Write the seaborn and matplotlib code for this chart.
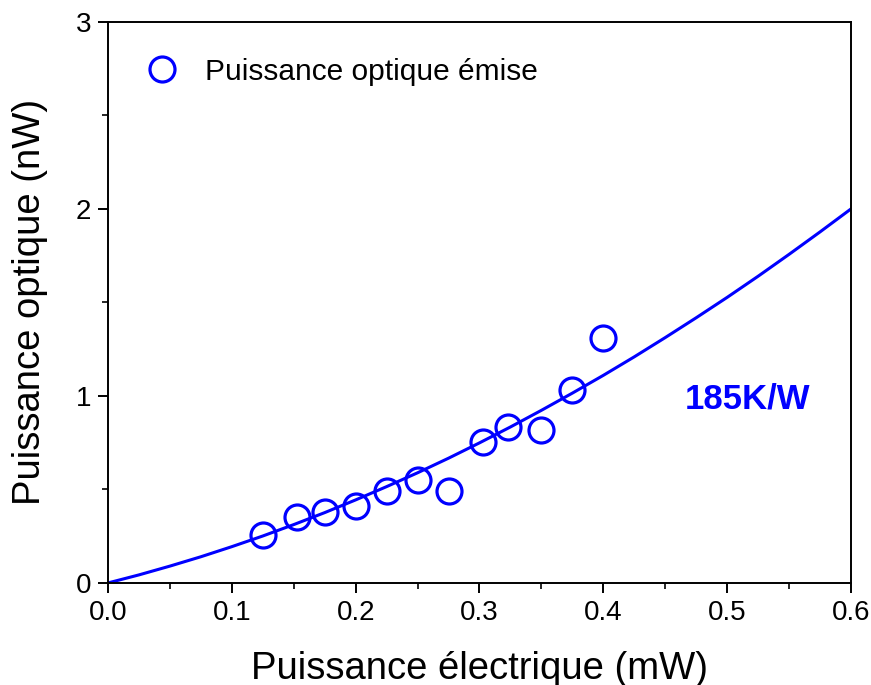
import numpy as np
import pandas as pd
import matplotlib
matplotlib.use("Agg")
import matplotlib.pyplot as plt
import seaborn as sns
from matplotlib.ticker import MultipleLocator

p_elec = [0.125, 0.153, 0.175, 0.200, 0.225, 0.250, 0.275, 0.303, 0.323, 0.350, 0.375, 0.400]
p_opt = [0.257, 0.353, 0.380, 0.410, 0.490, 0.550, 0.490, 0.755, 0.835, 0.820, 1.030, 1.310]

# fitted curve
fit_x = [0.0, 0.025, 0.05, 0.075, 0.10, 0.125, 0.15, 0.175, 0.20, 0.225, 0.25, 0.275, 0.30,
         0.325, 0.35, 0.375, 0.40, 0.425, 0.45, 0.475, 0.50, 0.525, 0.55, 0.575, 0.60]
fit_y = [0.0, 0.043, 0.090, 0.140, 0.194, 0.251, 0.312, 0.376, 0.444, 0.515, 0.589, 0.667, 0.749,
         0.834, 0.923, 1.015, 1.110, 1.209, 1.312, 1.418, 1.527, 1.640, 1.757, 1.877, 2.0]

df_pts = pd.DataFrame({"x": p_elec, "y": p_opt})
df_fit = pd.DataFrame({"x": fit_x, "y": fit_y})

sns.set_style("ticks")
plt.rcParams['font.family'] = ['Liberation Sans', 'DejaVu Sans']
plt.rcParams['text.color'] = 'black'
plt.rcParams['axes.labelcolor'] = 'black'

fig = plt.figure(figsize=(8.71, 6.85), dpi=100)
ax = fig.add_axes([0.124, 0.149, 0.853, 0.819])

blue = "#0000FF"
sns.lineplot(data=df_fit, x="x", y="y", ax=ax, color=blue, linewidth=2.2, legend=False)
ax.plot(df_pts["x"], df_pts["y"], linestyle="none", marker="o", markersize=18,
        markerfacecolor="none", markeredgecolor=blue, markeredgewidth=2.3,
        label="Puissance optique émise")

ax.set_xlim(0, 0.6)
ax.set_ylim(0, 3)
ax.xaxis.set_major_locator(MultipleLocator(0.1))
ax.xaxis.set_minor_locator(MultipleLocator(0.05))
ax.yaxis.set_major_locator(MultipleLocator(1))
ax.yaxis.set_minor_locator(MultipleLocator(0.5))
ax.xaxis.set_major_formatter(plt.FuncFormatter(lambda v, p: f"{v:.1f}"))
ax.yaxis.set_major_formatter(plt.FuncFormatter(lambda v, p: f"{v:.0f}"))

for s in ax.spines.values():
    s.set_visible(True)
    s.set_color("black")
    s.set_linewidth(1.4)
ax.tick_params(which="major", direction="out", length=7, width=1.4, colors="black", pad=5)
ax.tick_params(which="minor", direction="out", length=4, width=1.4)
for lab in ax.get_xticklabels() + ax.get_yticklabels():
    lab.set_fontsize(20)

ax.set_xlabel("Puissance électrique (mW)", fontsize=27.5, labelpad=18)
ax.set_ylabel("Puissance optique (nW)", fontsize=27.5, labelpad=20)

ax.legend(loc="center left", frameon=False, fontsize=21.5, handlelength=1.0,
          handletextpad=0.93, borderpad=0, borderaxespad=0,
          bbox_to_anchor=(0.0525, 0.911))
ax.text(0.861, 0.328, "185K/W", transform=ax.transAxes, color=blue,
        fontsize=25, fontweight="bold", ha="center", va="center")

fig.savefig("out.png", dpi=100)
